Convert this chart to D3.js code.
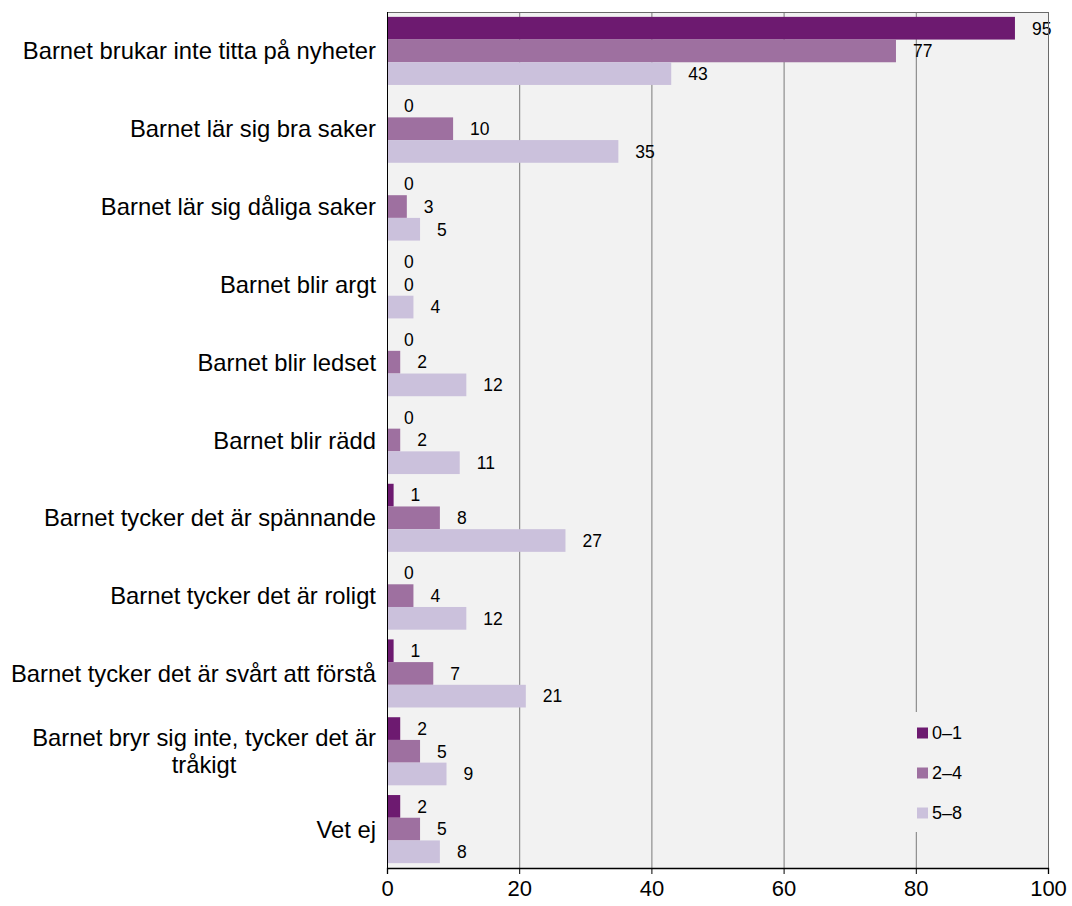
<!DOCTYPE html>
<html>
<head>
	<meta charset="utf-8" />
	<title>Barnet och nyheter</title>
	<script src="https://cdn.jsdelivr.net/npm/d3@7/dist/d3.min.js"></script>
	<style>
		body { margin: 0; background: #fff; }
		svg text { font-family: "Liberation Sans", Arial, Helvetica, sans-serif; fill: #000; }
	</style>
</head>
<body>
	<div id="chart"></div>
	<script type="text/javascript">
		var categories = [
			"Barnet brukar inte titta på nyheter",
			"Barnet lär sig bra saker",
			"Barnet lär sig dåliga saker",
			"Barnet blir argt",
			"Barnet blir ledset",
			"Barnet blir rädd",
			"Barnet tycker det är spännande",
			"Barnet tycker det är roligt",
			"Barnet tycker det är svårt att förstå",
			"Barnet bryr sig inte, tycker det är|tråkigt",
			"Vet ej"
		];
		var seriesNames = ["0–1", "2–4", "5–8"];
		var age01 = [95, 0, 0, 0, 0, 0, 1, 0, 1, 2, 2];
		var age24 = [77, 10, 3, 0, 2, 2, 8, 4, 7, 5, 5];
		var age58 = [43, 35, 5, 4, 12, 11, 27, 12, 21, 9, 8];
		var colors = ["#6d1a70", "#9e70a0", "#cbc1dc"];
		var xTicks = [0, 20, 40, 60, 80, 100];

		var width = 1072, height = 906;
		var plotL = 387, plotR = 1048, plotT = 12, plotB = 868;
		var catSize = 23.8;

		var svg = d3.select("#chart").append("svg")
			.attr("width", width).attr("height", height);

		var x = d3.scaleLinear().domain([0, 100]).range([plotL, plotR]);
		var y = d3.scaleBand().domain(categories).range([plotT, plotB]).paddingInner(0.125).paddingOuter(0.0625);
		var series = [age01, age24, age58];
		var yInner = d3.scaleBand().domain([0, 1, 2]).range([0, y.bandwidth()]);

		// plot background
		svg.append("rect")
			.attr("x", plotL).attr("y", plotT)
			.attr("width", plotR - plotL).attr("height", plotB - plotT)
			.attr("fill", "#f2f2f2");

		// gridlines
		svg.append("g").selectAll("line")
			.data(xTicks.slice(1, -1))
			.enter().append("line")
			.attr("x1", function(d) { return x(d) + 0.5; })
			.attr("x2", function(d) { return x(d) + 0.5; })
			.attr("y1", plotT).attr("y2", plotB)
			.attr("stroke", "#7a7a7a").attr("stroke-width", 1);

		// bars
		series.forEach(function(vals, s) {
			svg.append("g").selectAll("rect")
				.data(vals)
				.enter().append("rect")
				.attr("x", x(0))
				.attr("y", function(d, i) { return y(categories[i]) + yInner(s); })
				.attr("width", function(d) { return x(d) - x(0); })
				.attr("height", yInner.bandwidth())
				.attr("fill", colors[s]);

			svg.append("g").selectAll("text")
				.data(vals)
				.enter().append("text")
				.attr("x", function(d) { return x(d) + 17; })
				.attr("y", function(d, i) { return y(categories[i]) + yInner(s) + yInner.bandwidth() / 2; })
				.attr("dy", "0.36em")
				.attr("font-size", 17.5)
				.text(function(d) { return d; });
		});

		// frame
		svg.append("rect")
			.attr("x", plotL + 0.5).attr("y", plotT + 0.5)
			.attr("width", plotR - plotL).attr("height", plotB - plotT)
			.attr("fill", "none").attr("stroke", "#6a6a6a");

		svg.append("line")
			.attr("x1", plotL + 0.5).attr("x2", plotL + 0.5)
			.attr("y1", plotT).attr("y2", plotB)
			.attr("stroke", "#000");

		// x axis
		var xAxis = svg.append("g")
			.attr("transform", "translate(0," + plotB + ")")
			.call(d3.axisBottom(x).tickValues(xTicks).tickSize(6).tickPadding(6));
		xAxis.select(".domain").attr("stroke", "#000").attr("stroke-width", 1.3);
		xAxis.selectAll(".tick line").attr("stroke", "#000");
		xAxis.selectAll("text")
			.attr("font-size", 22)
			.attr("font-family", "Liberation Sans, Arial, sans-serif")
			.attr("fill", "#000");

		// category labels
		var labels = svg.append("g").selectAll("text")
			.data(categories)
			.enter().append("text")
			.attr("font-size", catSize);

		labels.each(function(d) {
			var lines = d.split("|");
			var t = d3.select(this);
			var cy = y(d) + y.bandwidth() / 2;
			if (lines.length == 1) {
				t.attr("x", 376).attr("y", cy).attr("dy", "0.36em")
					.attr("text-anchor", "end").text(d);
			} else {
				t.attr("x", 376).attr("y", cy - 13.5).attr("dy", "0.36em")
					.attr("text-anchor", "end").text(lines[0]);
				var w = this.getComputedTextLength();
				svg.append("text")
					.attr("x", 376 - w / 2).attr("y", cy + 13.5).attr("dy", "0.36em")
					.attr("text-anchor", "middle")
					.attr("font-size", catSize)
					.text(lines[1]);
			}
		});

		// legend
		var legend = svg.append("g");
		legend.append("rect")
			.attr("x", 906).attr("y", 712)
			.attr("width", 86).attr("height", 120)
			.attr("fill", "#f2f2f2");
		var items = legend.selectAll("g.item")
			.data(seriesNames)
			.enter().append("g")
			.attr("transform", function(d, i) { return "translate(917," + (733 + i * 40) + ")"; });
		items.append("rect")
			.attr("x", 0).attr("y", -5.5)
			.attr("width", 11).attr("height", 11)
			.attr("fill", function(d, i) { return colors[i]; });
		items.append("text")
			.attr("x", 15).attr("y", 0).attr("dy", "0.36em")
			.attr("font-size", 18)
			.text(function(d) { return d; });
	</script>
</body>
</html>
